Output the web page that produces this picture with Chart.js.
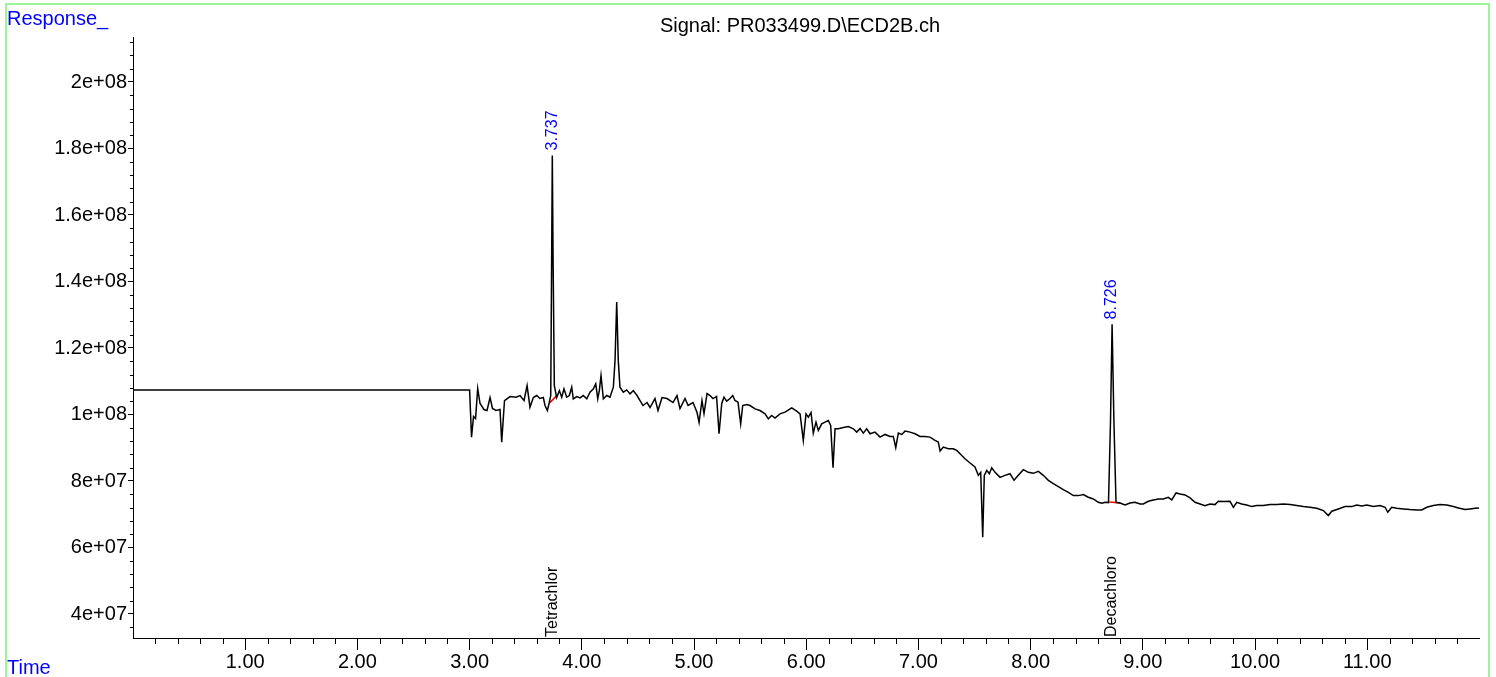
<!DOCTYPE html>
<html>
<head>
<meta charset="utf-8">
<title>Signal: PR033499.D\ECD2B.ch</title>
<script src="https://cdn.jsdelivr.net/npm/chart.js@4.4.1/dist/chart.umd.min.js"></script>
<style>
    html, body { margin: 0; padding: 0; background: #fff; }
    canvas { display: block; }
</style>
</head>
<body>
<canvas id="chrom" width="1496" height="677"></canvas>
<script>
// retention time (min)
const times = [
    0, 3.000, 3.017, 3.035, 3.053, 3.072, 3.093, 3.128, 3.155, 3.182,
    3.204, 3.235, 3.271, 3.286, 3.311, 3.360, 3.414, 3.449, 3.485, 3.512,
    3.538, 3.568, 3.598, 3.627, 3.657, 3.672, 3.693, 3.710, 3.723, 3.731,
    3.737, 3.744, 3.755, 3.776, 3.800, 3.821, 3.841, 3.865, 3.889, 3.910,
    3.924, 3.955, 3.984, 4.013, 4.044, 4.073, 4.103, 4.124, 4.142, 4.156,
    4.171, 4.192, 4.222, 4.251, 4.281, 4.296, 4.311, 4.325, 4.340, 4.370,
    4.400, 4.430, 4.459, 4.492, 4.519, 4.545, 4.581, 4.608, 4.652, 4.679,
    4.715, 4.759, 4.813, 4.848, 4.875, 4.920, 4.947, 4.991, 5.027, 5.045,
    5.071, 5.089, 5.116, 5.143, 5.169, 5.201, 5.223, 5.247, 5.267, 5.291,
    5.321, 5.345, 5.365, 5.392, 5.416, 5.434, 5.470, 5.499, 5.544, 5.588,
    5.633, 5.662, 5.692, 5.722, 5.766, 5.811, 5.871, 5.915, 5.945, 5.974,
    5.998, 6.019, 6.043, 6.063, 6.087, 6.108, 6.138, 6.168, 6.197, 6.218,
    6.239, 6.257, 6.286, 6.331, 6.375, 6.420, 6.450, 6.480, 6.509, 6.539,
    6.569, 6.613, 6.658, 6.702, 6.747, 6.776, 6.798, 6.821, 6.851, 6.881,
    6.925, 6.970, 7.014, 7.059, 7.103, 7.148, 7.177, 7.193, 7.222, 7.266,
    7.311, 7.341, 7.371, 7.415, 7.460, 7.504, 7.534, 7.555, 7.573, 7.587,
    7.609, 7.632, 7.653, 7.683, 7.727, 7.772, 7.816, 7.852, 7.890, 7.935,
    7.979, 8.024, 8.069, 8.113, 8.158, 8.202, 8.247, 8.291, 8.336, 8.381,
    8.425, 8.470, 8.514, 8.559, 8.603, 8.636, 8.663, 8.694, 8.712, 8.726,
    8.742, 8.761, 8.797, 8.841, 8.886, 8.930, 8.975, 9.004, 9.049, 9.094,
    9.138, 9.183, 9.227, 9.258, 9.296, 9.332, 9.376, 9.421, 9.465, 9.510,
    9.554, 9.599, 9.643, 9.673, 9.718, 9.777, 9.807, 9.837, 9.881, 9.926,
    9.971, 10.015, 10.074, 10.134, 10.193, 10.252, 10.312, 10.372, 10.431, 10.490,
    10.550, 10.609, 10.653, 10.684, 10.742, 10.802, 10.862, 10.906, 10.951, 10.996,
    11.054, 11.114, 11.159, 11.183, 11.218, 11.263, 11.322, 11.381, 11.441, 11.486,
    11.530, 11.589, 11.649, 11.709, 11.767, 11.812, 11.872, 11.916, 11.961, 11.996
];

// detector response, in units of 1e6
const response = [
    107.4, 107.4, 93.2, 99.4, 98.8, 107.8, 103.3, 101.5, 101.2, 105.1,
    101.8, 101.2, 101.5, 91.7, 104.2, 105.4, 105.2, 105.7, 104.2, 108.7,
    102.2, 105.1, 105.7, 104.8, 105.1, 102.7, 101.2, 103.6, 105.7, 146.3,
    177.9, 146.3, 108.7, 105.1, 107.2, 105.2, 107.7, 105.2, 105.7, 108.2,
    104.7, 105.4, 105.0, 105.7, 104.7, 106.7, 107.7, 109.2, 104.7, 107.2,
    111.7, 104.7, 105.7, 105.2, 108.2, 116.2, 133.8, 116.2, 108.2, 106.7,
    107.4, 106.2, 107.2, 105.7, 104.2, 102.7, 103.6, 102.1, 104.8, 101.2,
    105.1, 104.8, 103.6, 105.7, 101.8, 104.8, 102.7, 103.6, 100.6, 97.6,
    104.2, 100.3, 106.3, 105.7, 104.8, 105.4, 94.2, 103.3, 105.2, 104.0,
    104.8, 105.7, 104.2, 103.7, 97.2, 102.7, 103.0, 102.7, 101.7, 101.2,
    100.2, 98.7, 99.7, 98.9, 100.2, 100.7, 102.0, 101.0, 100.2, 92.2,
    100.2, 99.2, 100.6, 94.4, 97.7, 95.2, 97.2, 97.7, 98.2, 96.7,
    84.0, 95.7, 95.7, 96.1, 96.4, 95.7, 94.7, 95.8, 94.4, 95.7,
    94.2, 94.7, 93.2, 94.0, 93.4, 93.4, 90.0, 94.4, 94.0, 95.0,
    94.7, 94.2, 93.4, 93.4, 93.2, 92.2, 91.7, 89.0, 90.2, 89.7,
    89.7, 89.2, 88.2, 86.7, 85.4, 84.2, 81.7, 82.6, 63.1, 81.7,
    83.2, 82.2, 84.0, 82.6, 81.1, 81.7, 82.2, 80.2, 81.7, 83.4,
    82.6, 82.3, 82.9, 81.7, 80.2, 79.2, 78.3, 77.4, 76.6, 75.6,
    75.6, 75.9, 75.1, 74.6, 73.6, 73.3, 73.6, 73.5, 98.2, 127.1,
    98.2, 73.6, 73.4, 72.8, 73.4, 73.6, 73.1, 73.1, 73.9, 74.3,
    74.6, 74.6, 75.1, 74.3, 76.4, 76.1, 75.8, 74.9, 73.6, 73.1,
    72.6, 73.1, 72.9, 73.9, 73.8, 73.9, 72.1, 73.6, 73.1, 72.8,
    72.3, 72.6, 72.6, 72.9, 72.9, 73.1, 72.9, 72.6, 72.3, 72.1,
    71.8, 71.1, 69.6, 70.9, 71.6, 72.3, 72.3, 72.8, 72.5, 72.8,
    72.3, 72.6, 72.1, 70.6, 72.1, 71.8, 71.6, 71.4, 71.3, 71.3,
    72.1, 72.6, 72.9, 72.8, 72.3, 71.9, 71.4, 71.6, 71.8, 71.9
];

// integration baselines (red)
const base1Times = [3.712, 3.775];
const base1Values = [103.5, 105.6];
const base2Times = [8.701, 8.797];
const base2Values = [73.7, 73.4];

// identified peaks
const peakTimes = [3.737, 8.726];
const peakHeights = [177.9, 127.1];
const peakLabels = ['3.737', '8.726'];
const compoundNames = ['Tetrachlor', 'Decachloro'];

// axes
const xTicks = [1, 2, 3, 4, 5, 6, 7, 8, 9, 10, 11];
const yTicks = [40, 60, 80, 100, 120, 140, 160, 180, 200];
const xMinorStep = 0.2;
const yMinorStep = 4;

const FONT = "'Liberation Sans', Arial, sans-serif";

function expLabel(v) {
    return (v * 1e6).toExponential().replace(/e\+(\d)$/, 'e+0$1');
}

function toPoints(xs, ys) {
    return xs.map((x, i) => ({ x, y: ys[i] }));
}

const decorations = {
    id: 'decorations',
    afterDraw(chart) {
        const { ctx, chartArea, scales: { x, y } } = chart;
        ctx.save();

        // green frame
        ctx.strokeStyle = '#9cf59c';
        ctx.lineWidth = 2;
        ctx.beginPath();
        ctx.moveTo(6, 677);
        ctx.lineTo(6, 4);
        ctx.lineTo(1489, 4);
        ctx.lineTo(1489, 677);
        ctx.stroke();

        // minor ticks
        ctx.strokeStyle = '#000';
        ctx.lineWidth = 1;
        ctx.beginPath();
        for (let i = 1; i * xMinorStep < x.max; i++) {
            if (i % 5 === 0) continue;
            const px = Math.round(x.getPixelForValue(i * xMinorStep)) + 0.5;
            ctx.moveTo(px, chartArea.bottom);
            ctx.lineTo(px, chartArea.bottom + 6);
        }
        for (let v = yTicks[0] - 2 * yMinorStep; v < y.max; v += yMinorStep) {
            if (v < y.min || v % 20 === 0) continue;
            const py = Math.round(y.getPixelForValue(v)) + 0.5;
            ctx.moveTo(chartArea.left, py);
            ctx.lineTo(chartArea.left - 3, py);
        }
        ctx.stroke();

        // title and axis captions
        ctx.font = `20px ${FONT}`;
        ctx.textBaseline = 'alphabetic';
        ctx.fillStyle = '#000';
        ctx.textAlign = 'center';
        ctx.fillText('Signal: PR033499.D\\ECD2B.ch', 800, 32);
        ctx.fillStyle = '#0000ff';
        ctx.textAlign = 'left';
        ctx.fillText('Response_', 7, 25);
        ctx.fillText('Time', 7, 674);

        // peak retention times and compound names
        ctx.font = `16px ${FONT}`;
        ctx.textBaseline = 'middle';
        peakTimes.forEach((t, i) => {
            const px = x.getPixelForValue(t);
            const py = y.getPixelForValue(peakHeights[i]);
            ctx.save();
            ctx.translate(px, py - 5);
            ctx.rotate(-Math.PI / 2);
            ctx.fillStyle = '#0000ff';
            ctx.fillText(peakLabels[i], 0, 0);
            ctx.restore();

            ctx.save();
            ctx.translate(px, chartArea.bottom - 1);
            ctx.rotate(-Math.PI / 2);
            ctx.fillStyle = '#000';
            ctx.fillText(compoundNames[i], 0, 0);
            ctx.restore();
        });

        ctx.restore();
    }
};

new Chart(document.getElementById('chrom'), {
    type: 'line',
    data: {
        datasets: [
            {
                data: toPoints(times, response),
                borderColor: '#000',
                borderWidth: 1.5,
                pointRadius: 0,
                tension: 0
            },
            {
                data: toPoints(base1Times, base1Values),
                borderColor: '#ff0000',
                borderWidth: 1.5,
                pointRadius: 0
            },
            {
                data: toPoints(base2Times, base2Values),
                borderColor: '#ff0000',
                borderWidth: 1.5,
                pointRadius: 0
            }
        ]
    },
    options: {
        responsive: false,
        animation: false,
        devicePixelRatio: 1,
        events: [],
        layout: { padding: { top: 37, right: 17, left: 0, bottom: 0 } },
        plugins: {
            legend: { display: false },
            tooltip: { enabled: false }
        },
        scales: {
            x: {
                type: 'linear',
                min: 0,
                max: 11.996,
                afterBuildTicks: (scale) => { scale.ticks = xTicks.map(value => ({ value })); },
                afterFit: (scale) => { scale.height = 39; },
                grid: { drawOnChartArea: false, tickLength: 12, tickColor: '#000' },
                border: { color: '#000', width: 1 },
                ticks: {
                    color: '#000',
                    font: { family: FONT, size: 20 },
                    padding: 0,
                    maxRotation: 0,
                    callback: (v) => v.toFixed(2)
                }
            },
            y: {
                min: 32.78,
                max: 213.53,
                afterBuildTicks: (scale) => { scale.ticks = yTicks.map(value => ({ value })); },
                afterFit: (scale) => { scale.width = 133; },
                grid: { drawOnChartArea: false, tickLength: 5, tickColor: '#000' },
                border: { color: '#000', width: 1 },
                ticks: {
                    color: '#000',
                    font: { family: FONT, size: 20 },
                    padding: 1,
                    callback: (v) => expLabel(v)
                }
            }
        }
    },
    plugins: [decorations]
});
</script>
</body>
</html>
